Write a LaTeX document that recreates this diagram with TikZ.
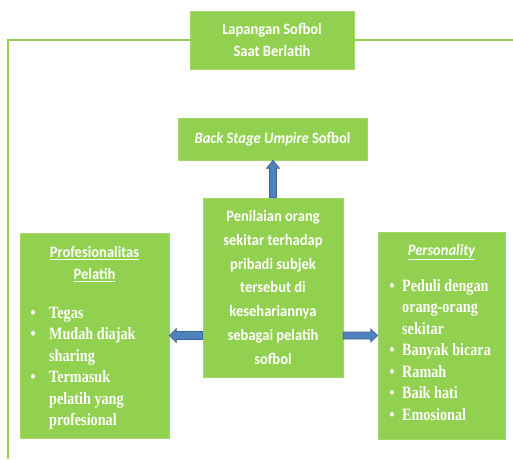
\documentclass[tikz,border=0pt]{standalone}
\usepackage{fontspec}
\setmainfont{Liberation Serif}[FakeStretch=0.82]
\newfontfamily\carl{Carlito}[FakeStretch=0.92]
\usetikzlibrary{calc}
\definecolor{gbox}{HTML}{92D050}
\definecolor{ablue}{HTML}{4F81BD}
\definecolor{aedge}{HTML}{3A6595}
\begin{document}
\begin{tikzpicture}[x=1pt,y=1pt,
  box/.style={fill=gbox, draw=gbox!85!white, line width=0.5pt, inner sep=0pt, text=white, align=center,
    font=\carl\bfseries\fontsize{15.8}{22}\selectfont},
  lbl/.style={text=white, inner sep=0pt},
  head/.style={lbl, align=center, font=\carl\bfseries\fontsize{15.8}{22}\selectfont},
  lst/.style={lbl, anchor=base west, font=\bfseries\fontsize{17.3}{21.5}\selectfont},
  barrow/.style={fill=ablue, draw=aedge, line width=0.6pt, line join=miter},
  frame/.style={draw=gbox, line width=1.3pt}]
\useasboundingbox (0,0) rectangle (513,459);
% boxes
\node[box, minimum width=164pt, minimum height=58pt] (top) at (272,419) {Lapangan Sofbol\\Saat Berlatih};
\node[box, minimum width=189pt, minimum height=42pt] (bs) at (272.5,320) {{\itshape Back Stage Umpire} Sofbol};
\node[box, minimum width=140pt, minimum height=179pt, font=\carl\bfseries\fontsize{15.8}{23.7}\selectfont] (c) at (273,171.5)
  {Penilaian orang\\sekitar terhadap\\pribadi subjek\\tersebut di\\kesehariannya\\sebagai pelatih\\sofbol};
\node[box, minimum width=149pt, minimum height=205pt] (l) at (94.5,123.5) {};
\node[box, minimum width=127pt, minimum height=207pt] (r) at (441.5,123.5) {};
% frame line
\draw[frame] (top.west) -- (8,419) -- (8,0);
\draw[frame] (top.east) -- (513,419);
% texts in side boxes
\node[head] (lh) at (94.5,195) {\underline{Profesionalitas}\\\underline{Pelatih}};
\node[head] (rh) at (441.5,207) {\itshape\underline{Personality}};
\node[lst] (ll) at (30.5,141) {\begin{tabular}[t]{@{}l@{}l@{}}
\makebox[18.5pt][l]{\textbullet} & Tegas\\
\makebox[18.5pt][l]{\textbullet} & Mudah diajak\\
 & sharing\\
\makebox[18.5pt][l]{\textbullet} & Termasuk\\
 & pelatih yang\\
 & profesional
\end{tabular}};
\node[lst] (rl) at (389.5,168) {\begin{tabular}[t]{@{}l@{}l@{}}
\makebox[12.5pt][l]{\textbullet} & Peduli dengan\\
 & orang-orang\\
 & sekitar\\
\makebox[12.5pt][l]{\textbullet} & Banyak bicara\\
\makebox[12.5pt][l]{\textbullet} & Ramah\\
\makebox[12.5pt][l]{\textbullet} & Baik hati\\
\makebox[12.5pt][l]{\textbullet} & Emosional
\end{tabular}};
% block arrows
\draw[barrow] ($(c.north)+(-3.5,0)$) -- ($(c.north |- bs.south)+(-3.5,-8)$) -- ($(c.north |- bs.south)+(-6.5,-8)$)
  -- (c.north |- bs.south) -- ($(c.north |- bs.south)+(6.5,-8)$) -- ($(c.north |- bs.south)+(3.5,-8)$)
  -- ($(c.north)+(3.5,0)$) -- cycle;
\draw[barrow] ($(c.west |- l.east)+(0,4)$) -- ($(l.east)+(7,4)$) -- ($(l.east)+(7,7)$) -- (l.east)
  -- ($(l.east)+(7,-7)$) -- ($(l.east)+(7,-4)$) -- ($(c.west |- l.east)+(0,-4)$) -- cycle;
\draw[barrow] ($(c.east |- r.west)+(0,3.5)$) -- ($(r.west)+(-7,3.5)$) -- ($(r.west)+(-7,6.5)$) -- (r.west)
  -- ($(r.west)+(-7,-6.5)$) -- ($(r.west)+(-7,-3.5)$) -- ($(c.east |- r.west)+(0,-3.5)$) -- cycle;
\end{tikzpicture}
\end{document}
